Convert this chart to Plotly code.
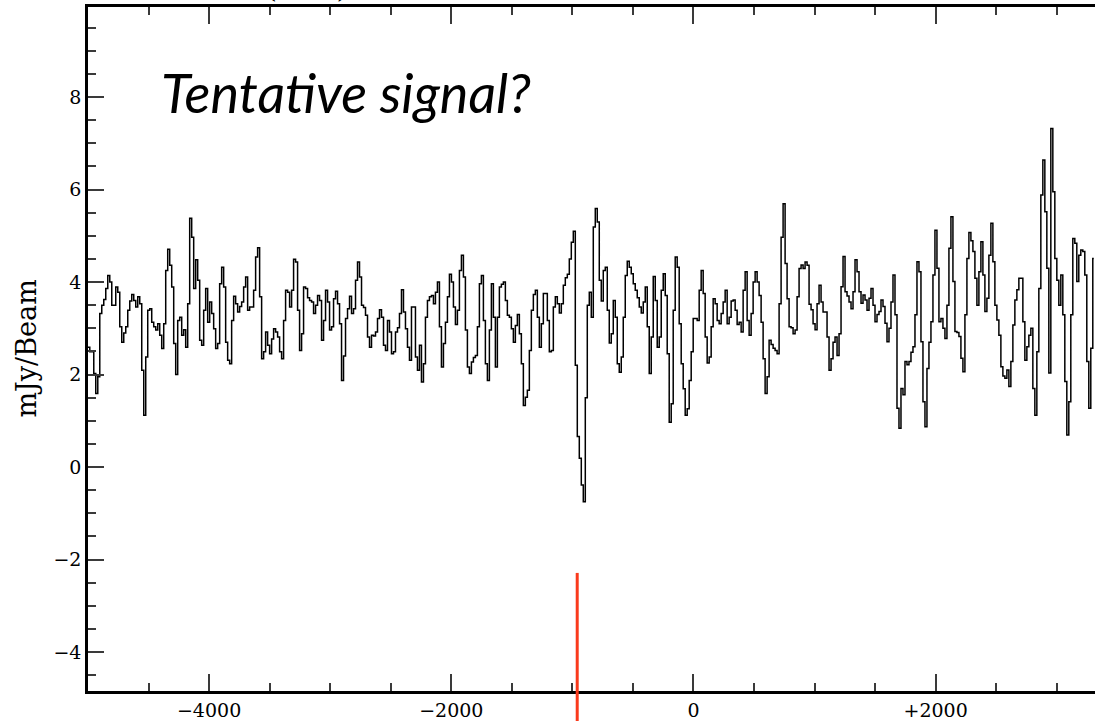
import numpy as np
import plotly.graph_objects as go

# Spectrum channels: velocity grid (km/s) and flux density per channel (mJy/beam)
channel_start_kms = -5010.0
channel_width_kms = 16.5

flux_mjy = [
    # -5010 .. -2914 km/s
    2.59, 2.59, 2.49, 2.49, 2.02, 1.59, 1.95, 3.32, 3.50, 3.62,
    3.86, 4.14, 4.00, 3.50, 3.50, 3.89, 3.78, 3.03, 2.70, 2.90,
    3.03, 3.39, 3.59, 3.73, 3.60, 3.46, 3.68, 3.53, 2.09, 1.12,
    2.38, 3.39, 3.42, 3.13, 3.03, 2.96, 3.10, 2.85, 2.56, 3.10,
    4.25, 4.71, 4.36, 3.89, 2.67, 2.00, 3.17, 3.24, 2.85, 2.97,
    2.59, 3.53, 5.38, 4.97, 3.86, 4.48, 4.04, 2.74, 2.63, 3.39,
    3.86, 3.13, 3.57, 3.32, 2.99, 2.56, 2.67, 3.96, 4.32, 3.89,
    2.70, 2.31, 2.23, 3.17, 3.69, 3.53, 3.35, 3.47, 3.57, 3.89,
    4.11, 3.39, 3.46, 3.46, 3.82, 4.54, 4.74, 3.68, 2.34, 2.49,
    2.92, 2.63, 2.45, 2.77, 2.99, 2.92, 2.81, 2.49, 2.34, 3.17,
    3.82, 3.78, 3.46, 3.82, 4.49, 4.43, 3.39, 2.52, 2.88, 3.89,
    3.86, 3.66, 3.60, 3.57, 3.32, 3.50, 3.71, 3.60, 2.74, 3.17,
    3.82, 3.57, 2.96, 3.03, 3.64, 3.80, 3.53, 3.10,
    # -2898 .. -833 km/s
    1.87, 2.40, 3.21, 3.42, 3.69, 3.32, 3.42, 4.04, 4.43, 4.11,
    3.50, 3.45, 3.28, 2.81, 2.59, 2.85, 2.83, 2.92, 3.21, 3.40,
    3.24, 2.63, 2.52, 3.17, 2.92, 2.45, 2.49, 2.92, 3.01, 3.32,
    3.83, 3.35, 2.99, 2.59, 2.31, 3.46, 3.46, 2.38, 2.09, 2.63,
    1.84, 2.23, 3.24, 3.60, 3.68, 3.71, 3.53, 3.78, 4.00, 3.03,
    2.16, 2.67, 3.13, 3.68, 4.17, 4.00, 3.46, 3.08, 3.39, 4.25,
    4.58, 4.11, 2.96, 2.16, 2.02, 2.27, 2.37, 2.41, 3.03, 3.96,
    4.14, 3.17, 2.23, 1.87, 2.96, 3.96, 3.24, 2.16, 3.24, 3.89,
    3.95, 4.00, 3.60, 3.28, 3.24, 2.99, 2.70, 3.06, 3.30, 2.88,
    2.23, 1.33, 1.51, 1.66, 2.52, 3.39, 3.73, 3.82, 3.24, 2.59,
    3.10, 3.75, 3.75, 3.17, 2.49, 2.52, 3.46, 3.68, 3.53, 3.33,
    3.53, 3.93, 4.09, 4.17, 4.50, 4.86, 5.10, 2.20, 0.66, 0.19,
    -0.39, -0.75, 1.50, 3.50, 3.78, 3.24,
    # -818 .. +1244 km/s
    5.19, 5.59, 5.30, 4.04, 3.59, 4.25, 4.32, 3.39, 2.68, 2.88,
    3.60, 3.24, 2.23, 2.05, 2.38, 3.24, 4.14, 4.45, 4.32, 4.18,
    3.96, 3.82, 3.66, 3.46, 3.33, 3.57, 3.89, 3.03, 2.02, 2.81,
    4.12, 3.60, 2.59, 2.81, 3.82, 4.18, 3.71, 2.45, 0.97, 1.37,
    3.39, 4.54, 4.32, 3.10, 2.23, 1.69, 1.12, 1.26, 1.87, 2.49,
    3.21, 3.21, 3.17, 3.82, 4.25, 3.75, 2.81, 2.25, 2.38, 3.03,
    3.64, 3.53, 3.17, 3.10, 3.32, 3.57, 3.82, 3.10, 3.24, 3.59,
    3.61, 3.39, 3.08, 3.13, 2.92, 3.82, 4.22, 3.17, 2.85, 3.32,
    4.00, 4.22, 4.00, 3.71, 3.13, 2.34, 1.59, 1.95, 2.74, 2.65,
    2.57, 2.52, 2.45, 3.53, 4.97, 5.69, 4.40, 3.64, 3.03, 3.01,
    2.88, 2.96, 3.68, 4.29, 4.37, 4.29, 4.43, 4.36, 3.52, 3.40,
    3.10, 2.97, 3.53, 3.93, 3.57, 3.35, 3.35, 2.81, 2.09, 2.34,
    2.70, 2.81, 2.41, 2.88, 3.90, 4.55,
    # +1260 .. +3306 km/s
    3.79, 3.70, 3.57, 3.42, 3.79, 4.48, 4.22, 3.79, 3.54, 3.72,
    3.61, 3.39, 3.65, 3.86, 3.50, 3.14, 3.30, 3.36, 3.61, 3.47,
    3.11, 2.71, 3.00, 3.57, 4.15, 3.29, 1.27, 0.84, 1.70, 1.56,
    2.28, 2.21, 2.28, 2.48, 2.60, 3.29, 4.44, 4.22, 2.71, 1.41,
    0.87, 2.13, 2.70, 3.14, 4.15, 5.12, 4.30, 3.14, 3.21, 3.00,
    2.78, 3.50, 4.73, 5.41, 4.01, 2.93, 2.91, 2.82, 2.35, 2.06,
    3.29, 4.51, 5.07, 4.89, 4.66, 4.08, 3.50, 4.22, 4.87, 4.15,
    3.36, 3.65, 4.58, 5.27, 4.44, 3.50, 3.18, 2.85, 2.17, 1.97,
    1.92, 2.10, 1.74, 2.28, 3.07, 3.61, 3.83, 4.08, 4.08, 3.14,
    2.31, 2.60, 2.85, 3.00, 1.70, 1.12, 2.49, 3.86, 5.88, 6.64,
    5.52, 4.30, 2.03, 7.32, 5.95, 4.51, 4.04, 3.50, 4.15, 3.29,
    1.85, 0.69, 1.41, 3.29, 4.94, 4.84, 4.01, 4.58, 4.69, 4.66,
    4.15, 2.28, 1.27, 2.57, 4.51,
]

velocity_kms = channel_start_kms + channel_width_kms * np.arange(len(flux_mjy))

# Axis ranges and tick labels
x_range = [-5000, 3316]
y_range = [-4.843, 9.946]
x_tickvals = [-4000, -2000, 0, 2000]
x_ticktext = ["\u22124000", "\u22122000", "0", "+2000"]
y_tickvals = [-4, -2, 0, 2, 4, 6, 8]

# Marker for the expected line velocity
marker_velocity_kms = -960
marker_top_mjy = -2.29

serif = "DejaVu Serif"
tick_color = "#3a3a3a"

fig = go.Figure()
fig.add_trace(go.Scatter(
    x=velocity_kms, y=flux_mjy, mode="lines",
    line=dict(color="black", width=1.5, shape="hvh"),
    showlegend=False, hoverinfo="skip",
))

fig.update_layout(
    width=1095, height=721,
    margin=dict(l=88, r=0, t=7, b=30),
    paper_bgcolor="white", plot_bgcolor="white",
    showlegend=False,
    xaxis=dict(
        range=x_range, showgrid=False, zeroline=False,
        showline=True, linewidth=2.5, linecolor="black", mirror="ticks",
        ticks="inside", ticklen=17, tickwidth=1.5, tickcolor=tick_color,
        tickvals=x_tickvals, ticktext=x_ticktext,
        tickfont=dict(family=serif, size=19, color="black"),
        minor=dict(dtick=500, tick0=0, ticks="inside", ticklen=8,
                   tickwidth=1.5, tickcolor=tick_color, showgrid=False),
    ),
    yaxis=dict(
        range=y_range, showgrid=False, zeroline=False,
        showline=True, linewidth=2.5, linecolor="black", mirror=False,
        ticks="inside", ticklen=16, tickwidth=1.5, tickcolor=tick_color,
        tickvals=y_tickvals,
        tickfont=dict(family=serif, size=19, color="black"),
        minor=dict(dtick=0.5, tick0=0, ticks="inside", ticklen=8,
                   tickwidth=1.5, tickcolor=tick_color, showgrid=False),
    ),
    yaxis2=dict(
        range=y_range, overlaying="y", side="right", showgrid=False,
        zeroline=False, showline=False, showticklabels=False,
        ticks="inside", ticklen=4, tickwidth=1.5, tickcolor=tick_color,
        tickvals=y_tickvals,
    ),
)

# Red velocity marker running off the bottom of the axes
marker_top_frac = (marker_top_mjy - y_range[0]) / (y_range[1] - y_range[0])
fig.add_shape(type="line", xref="x", yref="paper",
              x0=marker_velocity_kms, x1=marker_velocity_kms,
              y0=-0.2, y1=marker_top_frac,
              line=dict(color="#fa3a1c", width=3))

fig.add_annotation(text="Tentative signal?", xref="paper", yref="paper",
                   x=0.071, y=0.875, xanchor="left", yanchor="middle",
                   showarrow=False,
                   font=dict(family="Lato", size=54, style="italic", color="black"))

fig.add_annotation(text="mJy/Beam", xref="paper", yref="paper",
                   x=-0.062, y=0.5, xanchor="center", yanchor="middle",
                   textangle=-90, showarrow=False,
                   font=dict(family=serif, size=27, color="black"))

# Axis caption above the frame (only its lowest part falls on the page)
fig.add_annotation(text="(km/s)", xref="paper", yref="paper",
                   x=0.2175, y=1.0255, xanchor="center", yanchor="middle",
                   showarrow=False,
                   font=dict(family=serif, size=25, color="black"))

fig.write_html("out.html")
